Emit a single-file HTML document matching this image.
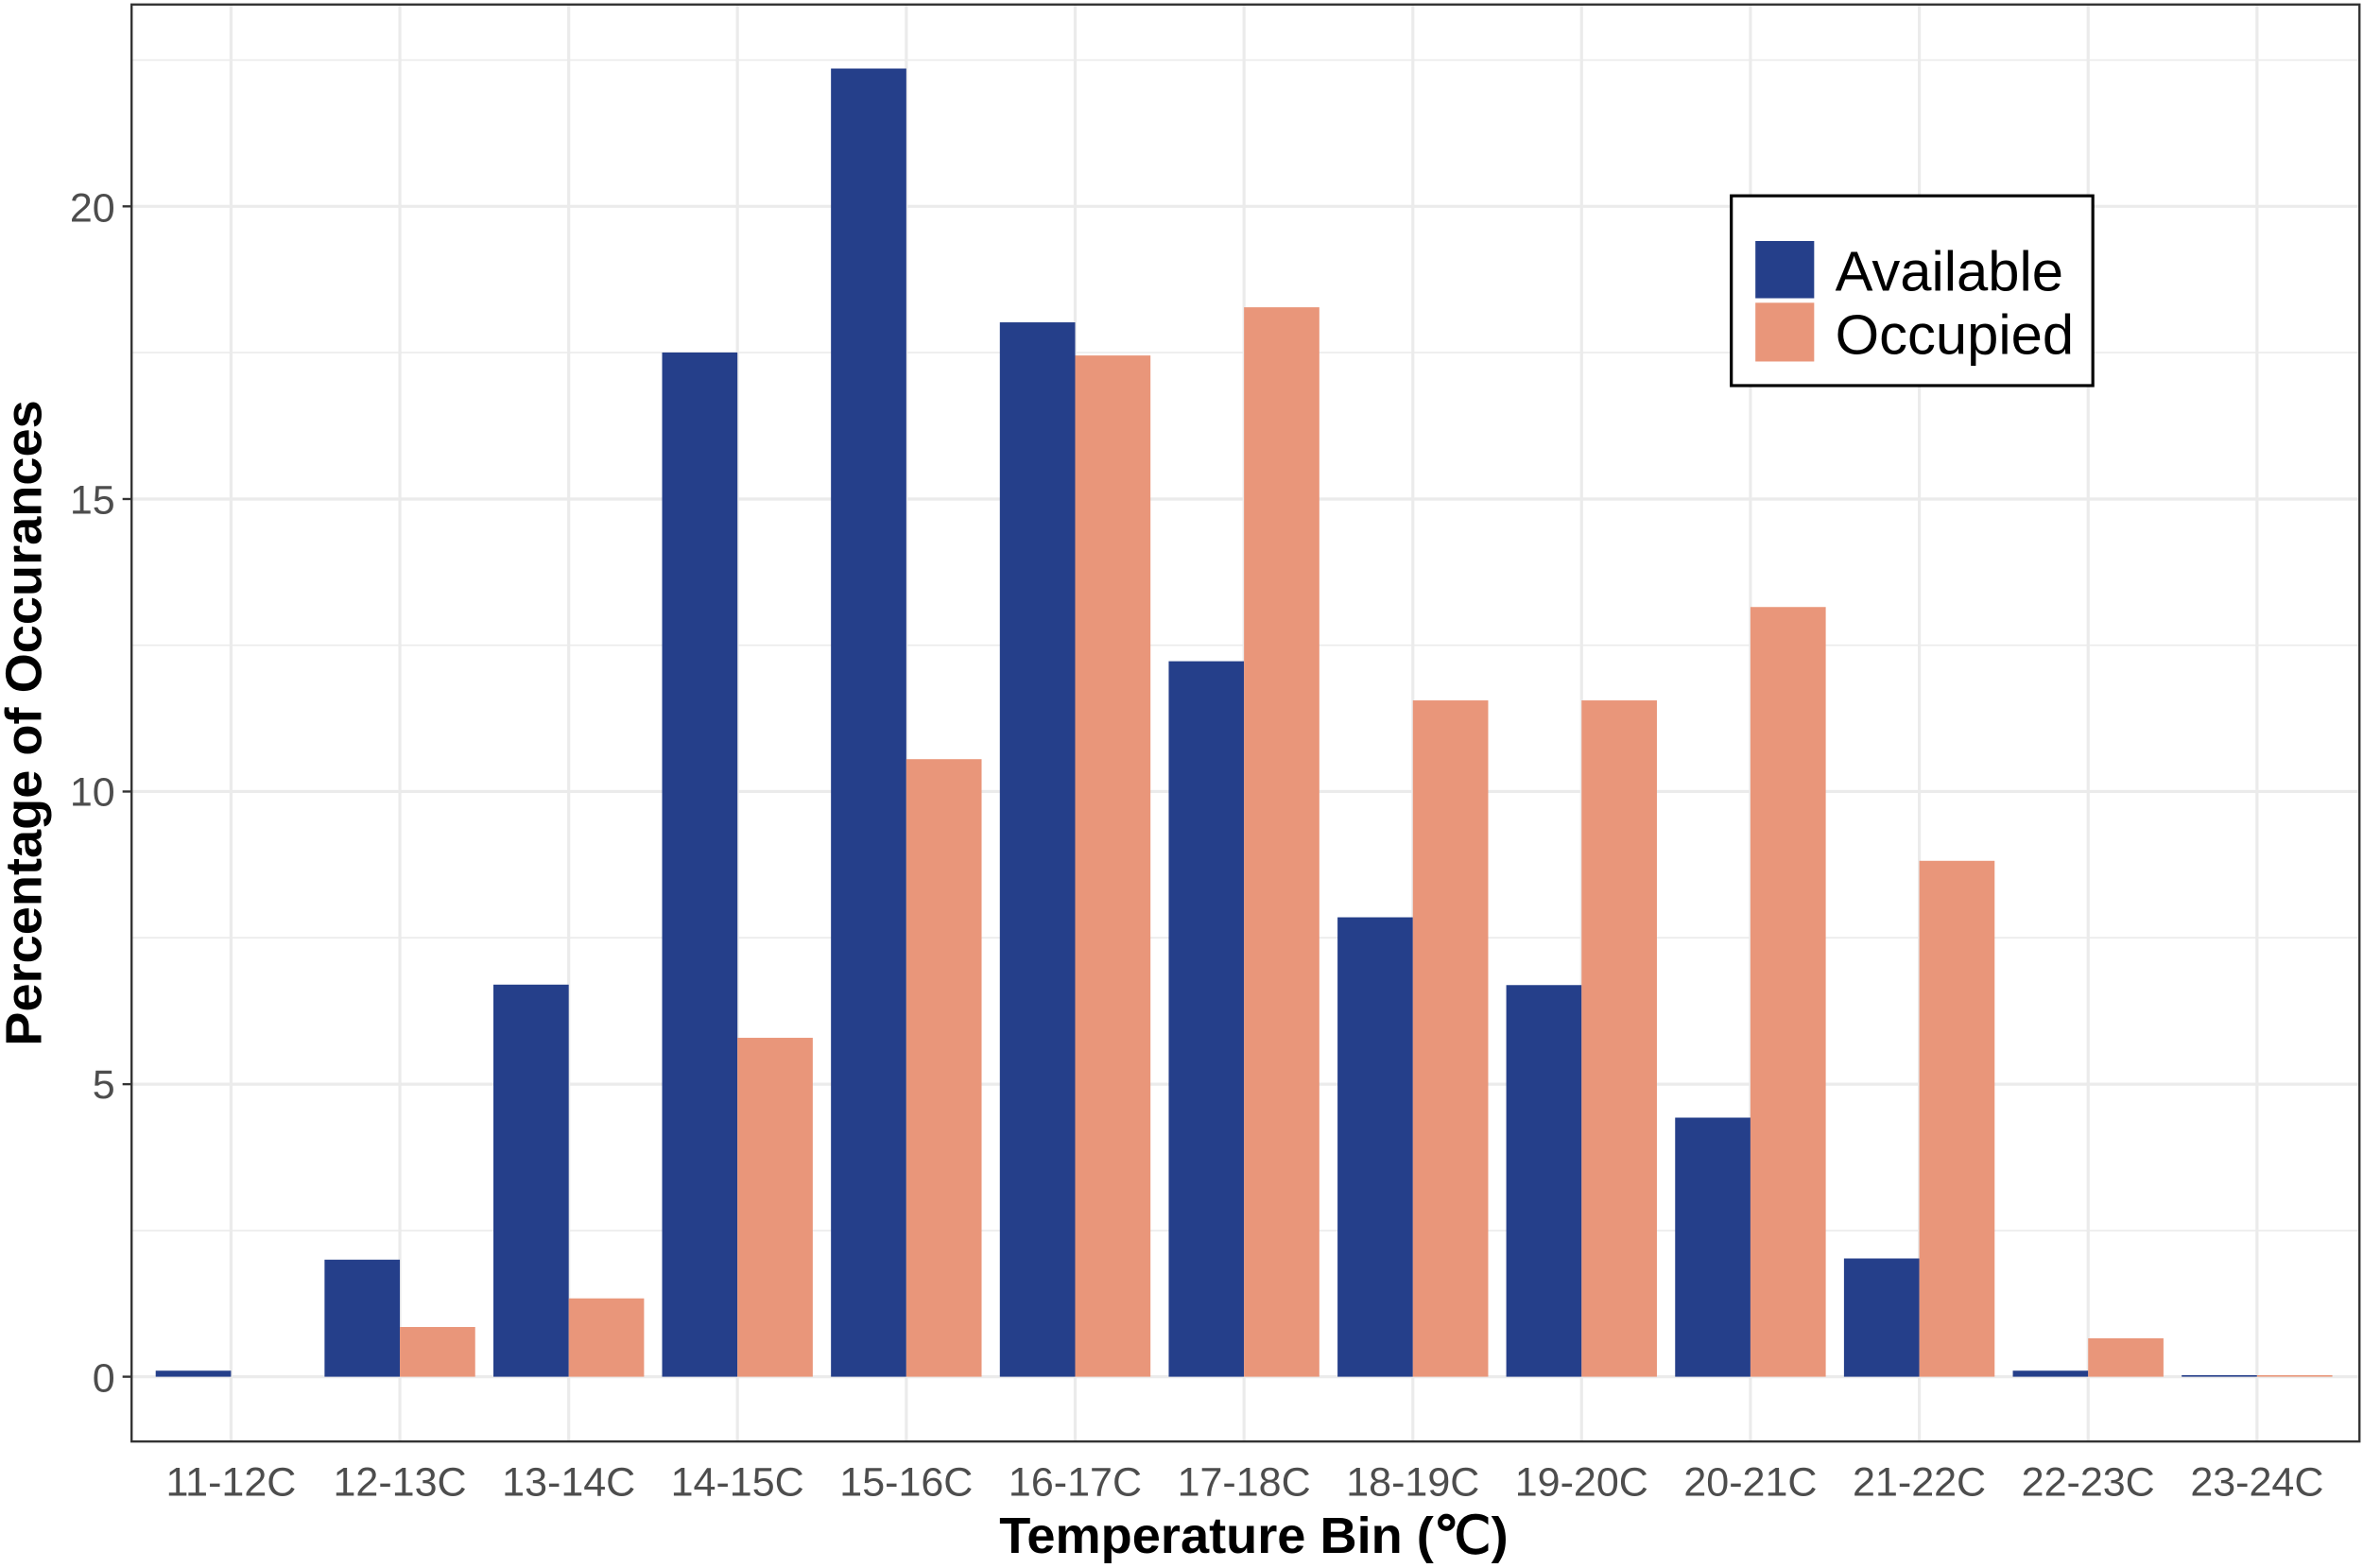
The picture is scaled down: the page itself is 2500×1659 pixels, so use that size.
<!DOCTYPE html>
<html><head><meta charset="utf-8"><style>html,body{margin:0;padding:0;background:#fff}svg{display:block}</style></head><body>
<svg width="2500" height="1659" viewBox="0 0 1568 1041" xmlns="http://www.w3.org/2000/svg" font-family="Liberation Sans, sans-serif">
<rect width="1568" height="1041" fill="#fff"/>
<g stroke="#ebebeb" stroke-width="1">
<line x1="87" x2="1566" y1="817" y2="817"/><line x1="87" x2="1566" y1="622.6" y2="622.6"/><line x1="87" x2="1566" y1="428.4" y2="428.4"/><line x1="87" x2="1566" y1="234.1" y2="234.1"/><line x1="87" x2="1566" y1="39.9" y2="39.9"/>
</g>
<g stroke="#ebebeb" stroke-width="2">
<line x1="87" x2="1566" y1="914" y2="914"/><line x1="87" x2="1566" y1="719.8" y2="719.8"/><line x1="87" x2="1566" y1="525.5" y2="525.5"/><line x1="87" x2="1566" y1="331.3" y2="331.3"/><line x1="87" x2="1566" y1="137" y2="137"/>
<line x1="153" x2="153" y1="3" y2="957"/><line x1="265.1" x2="265.1" y1="3" y2="957"/><line x1="377.2" x2="377.2" y1="3" y2="957"/><line x1="489.2" x2="489.2" y1="3" y2="957"/><line x1="601.3" x2="601.3" y1="3" y2="957"/><line x1="713.4" x2="713.4" y1="3" y2="957"/><line x1="825.5" x2="825.5" y1="3" y2="957"/><line x1="937.6" x2="937.6" y1="3" y2="957"/><line x1="1049.6" x2="1049.6" y1="3" y2="957"/><line x1="1161.7" x2="1161.7" y1="3" y2="957"/><line x1="1273.8" x2="1273.8" y1="3" y2="957"/><line x1="1385.9" x2="1385.9" y1="3" y2="957"/><line x1="1498" x2="1498" y1="3" y2="957"/>
</g>
<g fill="#253f8a">
<rect x="103" y="910" width="50" height="4"/>
<rect x="215.1" y="836.3" width="50" height="77.7"/>
<rect x="327.2" y="653.7" width="50" height="260.3"/>
<rect x="439.2" y="234" width="50" height="680"/>
<rect x="551.3" y="45.5" width="50" height="868.5"/>
<rect x="663.4" y="214" width="50" height="700"/>
<rect x="775.5" y="439" width="50" height="475"/>
<rect x="887.6" y="609" width="50" height="305"/>
<rect x="999.6" y="654" width="50" height="260"/>
<rect x="1111.7" y="742" width="50" height="172"/>
<rect x="1223.8" y="835.5" width="50" height="78.5"/>
<rect x="1335.9" y="910" width="50" height="4"/>
<rect x="1448" y="913" width="50" height="1"/>
</g>
<g fill="#e9967a">
<rect x="265.1" y="881" width="50" height="33"/>
<rect x="377.2" y="862" width="50" height="52"/>
<rect x="489.2" y="689" width="50" height="225"/>
<rect x="601.3" y="504" width="50" height="410"/>
<rect x="713.4" y="236" width="50" height="678"/>
<rect x="825.5" y="204" width="50" height="710"/>
<rect x="937.6" y="465" width="50" height="449"/>
<rect x="1049.6" y="465" width="50" height="449"/>
<rect x="1161.7" y="403" width="50" height="511"/>
<rect x="1273.8" y="571.5" width="50" height="342.5"/>
<rect x="1385.9" y="888.5" width="50" height="25.5"/>
<rect x="1498" y="913" width="50" height="1"/>
</g>
<rect x="87" y="3" width="1479" height="954" fill="none" stroke="#333" stroke-width="1.5"/>
<g stroke="#333" stroke-width="1.5">
<line x1="81" x2="87" y1="914" y2="914"/><line x1="81" x2="87" y1="719.8" y2="719.8"/><line x1="81" x2="87" y1="525.5" y2="525.5"/><line x1="81" x2="87" y1="331.3" y2="331.3"/><line x1="81" x2="87" y1="137" y2="137"/>
</g>
<g font-size="27" fill="#4d4d4d" text-anchor="end">
<text x="76" y="924">0</text><text x="76" y="729">5</text><text x="76" y="535">10</text><text x="76" y="341">15</text><text x="76" y="147">20</text>
</g>
<g font-size="27" fill="#4d4d4d" text-anchor="middle">
<text x="153" y="993">11-12C</text><text x="265.1" y="993">12-13C</text><text x="377.2" y="993">13-14C</text><text x="489.2" y="993">14-15C</text><text x="601.3" y="993">15-16C</text><text x="713.4" y="993">16-17C</text><text x="825.5" y="993">17-18C</text><text x="937.6" y="993">18-19C</text><text x="1049.6" y="993">19-20C</text><text x="1161.7" y="993">20-21C</text><text x="1273.8" y="993">21-22C</text><text x="1385.9" y="993">22-23C</text><text x="1498" y="993">23-24C</text>
</g>
<text x="832" y="1031" font-size="34" font-weight="bold" text-anchor="middle" fill="#000">Temperature Bin (℃)</text>
<text transform="translate(27,480) rotate(-90)" font-size="34" font-weight="bold" text-anchor="middle" fill="#000">Percentage of Occurances</text>
<rect x="1149" y="130" width="240" height="126" fill="#fff" stroke="#000" stroke-width="2"/>
<rect x="1165" y="160" width="39" height="38" fill="#253f8a"/>
<rect x="1165" y="201" width="39" height="39" fill="#e9967a"/>
<g font-size="37.5" fill="#000"><text x="1218" y="193">Available</text><text x="1218" y="235">Occupied</text></g>
</svg>
</body></html>
